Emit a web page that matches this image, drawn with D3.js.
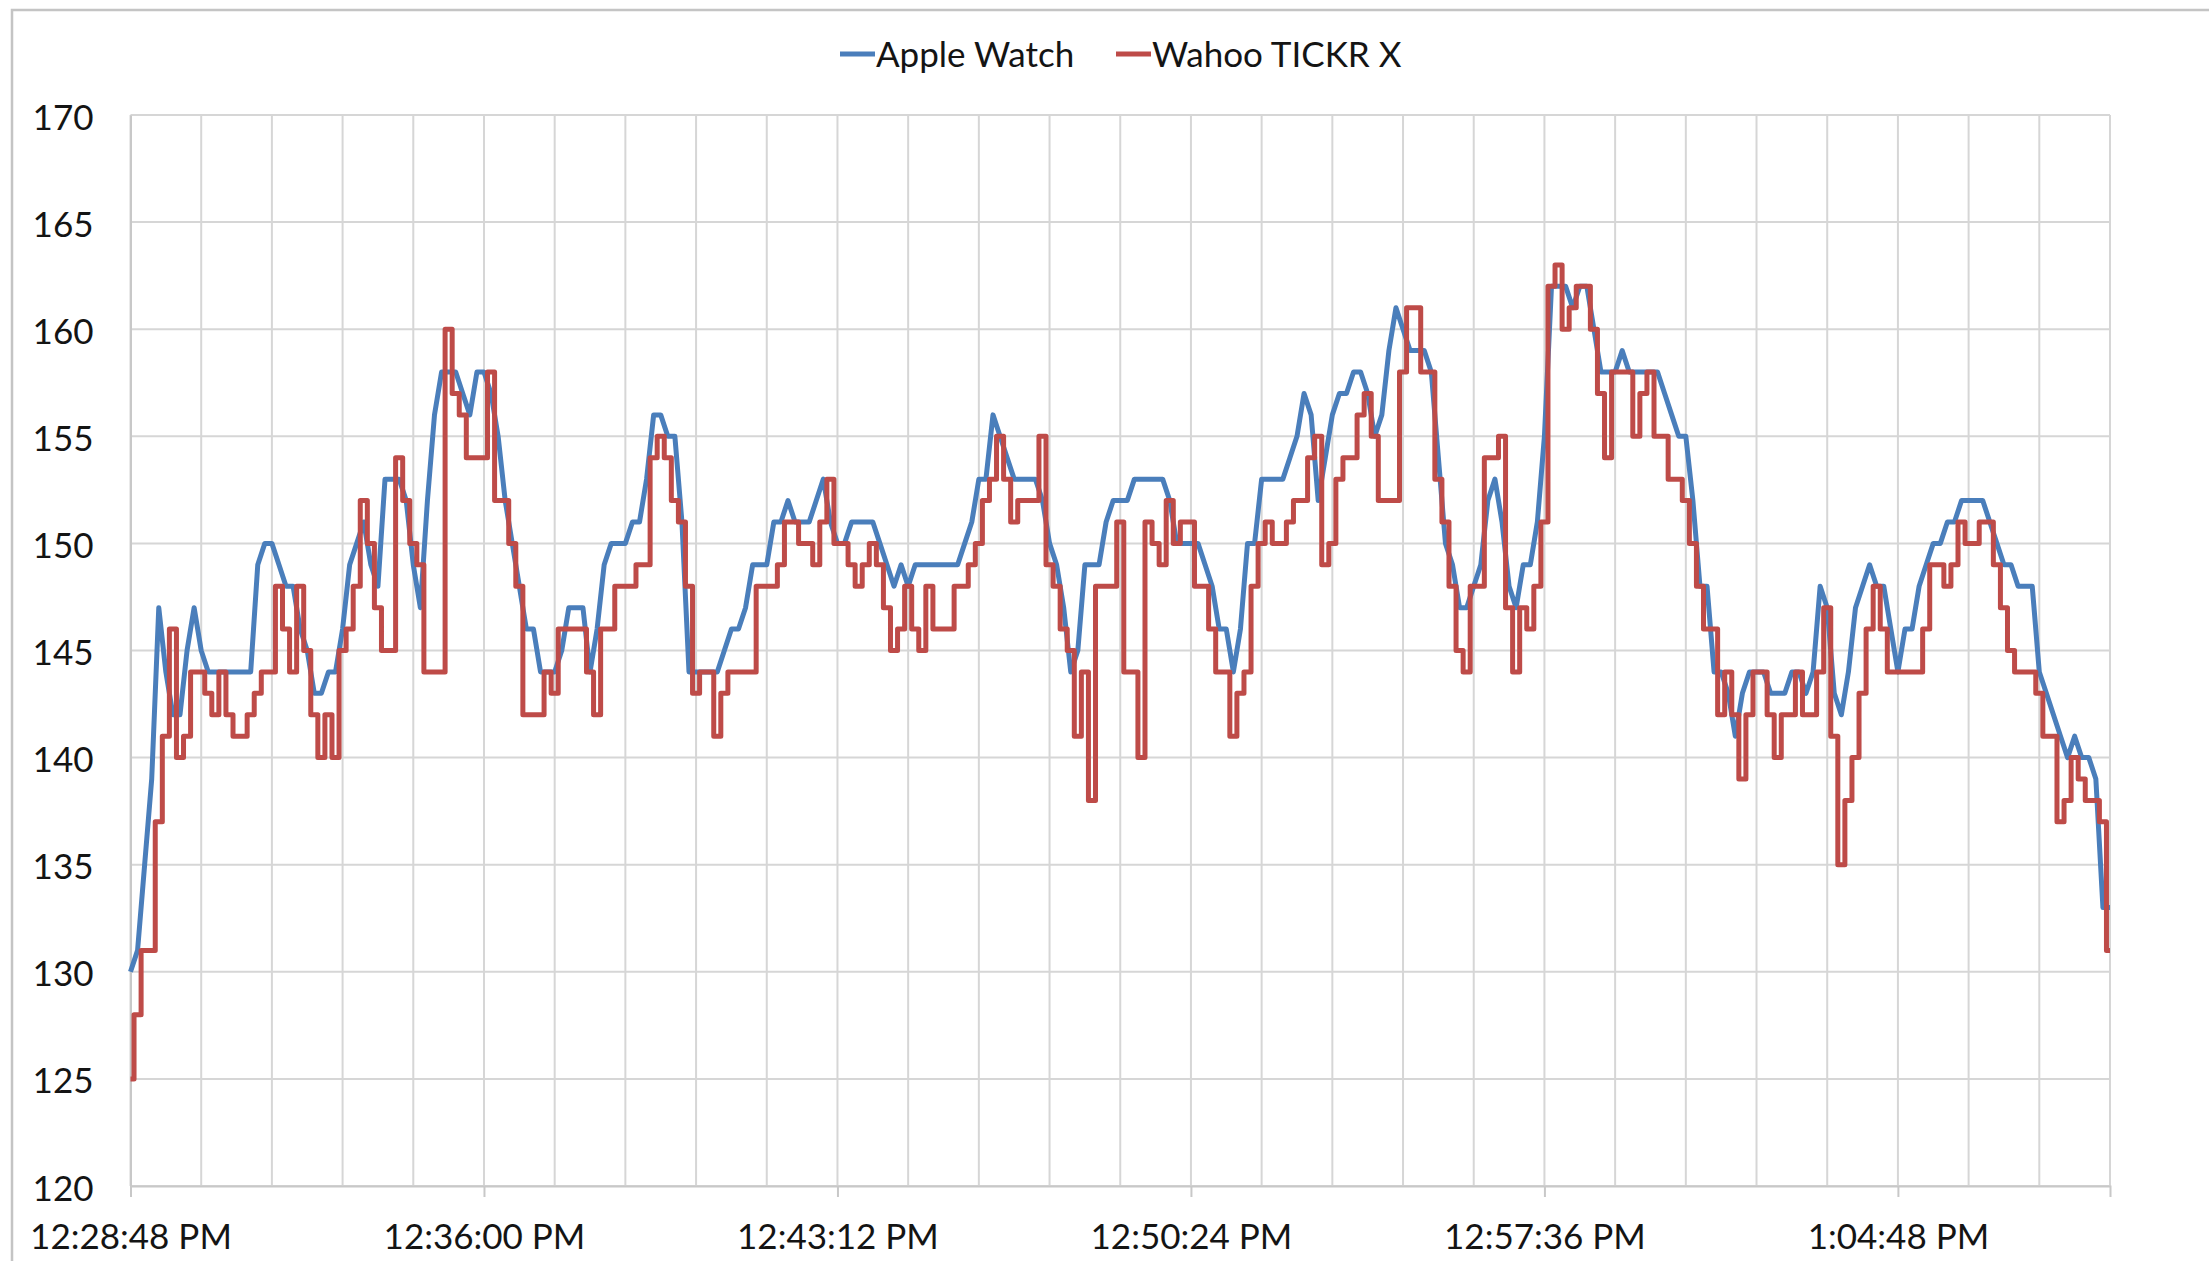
<!DOCTYPE html>
<html>
<head>
<meta charset="utf-8">
<script src="https://cdn.jsdelivr.net/npm/d3@7"></script>
<style>
  body { margin: 0; background: #fff; }
  text { font-family: Lato, "Open Sans", sans-serif; fill: #141414; }
</style>
</head>
<body>
<div id="chart"></div>
<script>
// heart rate, one reading every 8.64 s starting 12:28:48 PM
var startTime = new Date(2015, 0, 1, 12, 28, 48);
var stepSeconds = 8.64;

var appleWatch = [
  130,131,135,139,147,144,142,142,145,147,
  145,144,144,144,144,144,144,144,149,150,
  150,149,148,148,146,145,143,143,144,144,
  146,149,150,151,149,148,153,153,153,152,
  149,147,152,156,158,158,158,157,156,158,
  158,157,155,152,150,148,146,146,144,144,
  144,145,147,147,147,144,146,149,150,150,
  150,151,151,153,156,156,155,155,151,144,
  144,144,144,144,145,146,146,147,149,149,
  149,151,151,152,151,151,151,152,153,151,
  150,150,151,151,151,151,150,149,148,149,
  148,149,149,149,149,149,149,149,150,151,
  153,153,156,155,154,153,153,153,153,152,
  150,149,147,144,145,149,149,149,151,152,
  152,152,153,153,153,153,153,152,150,150,
  150,150,149,148,146,146,144,146,150,150,
  153,153,153,153,154,155,157,156,152,154,
  156,157,157,158,158,157,155,156,159,161,
  160,159,159,159,158,154,150,149,147,147,
  148,149,152,153,151,148,147,149,149,151,
  155,162,162,162,161,162,162,160,158,158,
  158,159,158,158,158,158,158,157,156,155,
  155,152,148,148,144,144,143,141,143,144,
  144,144,143,143,143,144,144,143,144,148,
  147,143,142,144,147,148,149,148,148,146,
  144,146,146,148,149,150,150,151,151,152,
  152,152,152,151,150,149,149,148,148,148,
  144,143,142,141,140,141,140,140,139,133,
  133
];

var wahooTickr = [
  125,128,131,131,137,141,146,140,141,144,
  144,143,142,144,142,141,141,142,143,144,
  144,148,146,144,148,145,142,140,142,140,
  145,146,148,152,150,147,145,145,154,152,
  150,149,144,144,144,160,157,156,154,154,
  154,158,152,152,150,148,142,142,142,144,
  143,146,146,146,146,144,142,146,146,148,
  148,148,149,149,154,155,154,152,151,148,
  143,144,144,141,143,144,144,144,144,148,
  148,148,149,151,151,150,150,149,151,153,
  150,150,149,148,149,150,149,147,145,146,
  148,146,145,148,146,146,146,148,148,149,
  150,152,153,155,153,151,152,152,152,155,
  149,148,146,145,141,144,138,148,148,148,
  151,144,144,140,151,150,149,152,150,151,
  151,148,148,146,144,144,141,143,144,148,
  150,151,150,150,151,152,152,154,155,149,
  150,153,154,154,156,157,155,152,152,152,
  158,161,161,158,158,153,151,148,145,144,
  148,148,154,154,155,147,144,147,146,148,
  151,162,163,160,161,162,162,160,157,154,
  158,158,158,155,157,158,155,155,153,153,
  152,150,148,146,146,142,144,142,139,142,
  144,144,142,140,142,142,144,142,142,144,
  147,141,135,138,140,143,146,148,146,144,
  144,144,144,144,146,149,149,148,149,151,
  150,150,151,151,149,147,145,144,144,144,
  143,141,141,137,138,140,139,138,138,137,
  131
];

var seriesNames = ["Apple Watch", "Wahoo TICKR X"];
var seriesColors = ["#4a7ebb", "#be4b48"];

var yTicks = [120, 125, 130, 135, 140, 145, 150, 155, 160, 165, 170];
var timeLabels = ["12:28:48 PM", "12:36:00 PM", "12:43:12 PM", "12:50:24 PM", "12:57:36 PM", "1:04:48 PM"];

var gridSeconds = 86.4;
var gridCount = 28;
var labelEvery = 5;

var width = 2209, height = 1261;
var plotLeft = 130.5, plotRight = 2110, plotTop = 115, plotBottom = 1186;

function timeAt(sec) { return new Date(startTime.getTime() + sec * 1000); }

var svg = d3.select("#chart").append("svg")
    .attr("width", width)
    .attr("height", height);

// outer chart border, only top and left show in the picture
svg.append("rect")
    .attr("x", 12).attr("y", 10)
    .attr("width", width + 20).attr("height", height + 20)
    .attr("fill", "#fff")
    .attr("stroke", "#c4c4c4")
    .attr("stroke-width", 2.5);

var x = d3.scaleTime()
    .domain([startTime, timeAt(gridSeconds * gridCount)])
    .range([plotLeft, plotRight]);

var y = d3.scaleLinear()
    .domain([120, 170])
    .range([plotBottom, plotTop]);

var gridTimes = d3.range(gridCount + 1).map(function(i) { return timeAt(i * gridSeconds); });
var labelTimes = gridTimes.filter(function(d, i) { return i % labelEvery == 0; });

// vertical grid
svg.append("g")
    .attr("class", "xgrid")
    .selectAll("line")
    .data(gridTimes)
    .enter().append("line")
    .attr("x1", function(d) { return x(d); })
    .attr("x2", function(d) { return x(d); })
    .attr("y1", plotTop)
    .attr("y2", plotBottom)
    .attr("stroke", "#d6d6d6")
    .attr("stroke-width", 2);

// horizontal grid
svg.append("g")
    .attr("class", "ygrid")
    .selectAll("line")
    .data(yTicks)
    .enter().append("line")
    .attr("x1", plotLeft)
    .attr("x2", plotRight)
    .attr("y1", function(d) { return y(d); })
    .attr("y2", function(d) { return y(d); })
    .attr("stroke", "#d6d6d6")
    .attr("stroke-width", 2);

// axes
var xAxis = d3.axisBottom(x)
    .tickValues(labelTimes)
    .tickSize(11)
    .tickPadding(27)
    .tickFormat(function(d, i) { return timeLabels[i]; });

var gx = svg.append("g")
    .attr("transform", "translate(0," + plotBottom + ")")
    .call(xAxis);
gx.select(".domain").attr("stroke", "#c8c8c8").attr("stroke-width", 2);
gx.selectAll(".tick line").attr("stroke", "#c8c8c8").attr("stroke-width", 2);
gx.selectAll("text").attr("font-size", 35).attr("fill", "#141414");

var yAxis = d3.axisLeft(y)
    .tickValues(yTicks)
    .tickSize(0)
    .tickPadding(37)
    .tickFormat(d3.format("d"));

var gy = svg.append("g")
    .attr("transform", "translate(" + plotLeft + ",0)")
    .call(yAxis);
gy.select(".domain").attr("stroke", "#c8c8c8").attr("stroke-width", 2);
gy.selectAll("text").attr("font-size", 35).attr("fill", "#141414").attr("dy", "0.4em");

// the two series
var series = [appleWatch, wahooTickr];
var curves = [d3.curveLinear, d3.curveStep];

series.forEach(function(values, s) {
  var line = d3.line()
      .curve(curves[s])
      .x(function(d, i) { return x(timeAt(i * stepSeconds)); })
      .y(function(d) { return y(d); });
  svg.append("path")
      .datum(values)
      .attr("fill", "none")
      .attr("stroke", seriesColors[s])
      .attr("stroke-width", 5)
      .attr("stroke-linejoin", "round")
      .attr("d", line);
});

// legend
var legendX = [840, 1116];
var legend = svg.append("g").attr("class", "legend");
seriesNames.forEach(function(name, s) {
  legend.append("line")
      .attr("x1", legendX[s]).attr("x2", legendX[s] + 35)
      .attr("y1", 54).attr("y2", 54)
      .attr("stroke", seriesColors[s])
      .attr("stroke-width", 5);
  legend.append("text")
      .attr("x", legendX[s] + 36)
      .attr("y", 67)
      .attr("font-size", 35)
      .text(name);
});
</script>
</body>
</html>
